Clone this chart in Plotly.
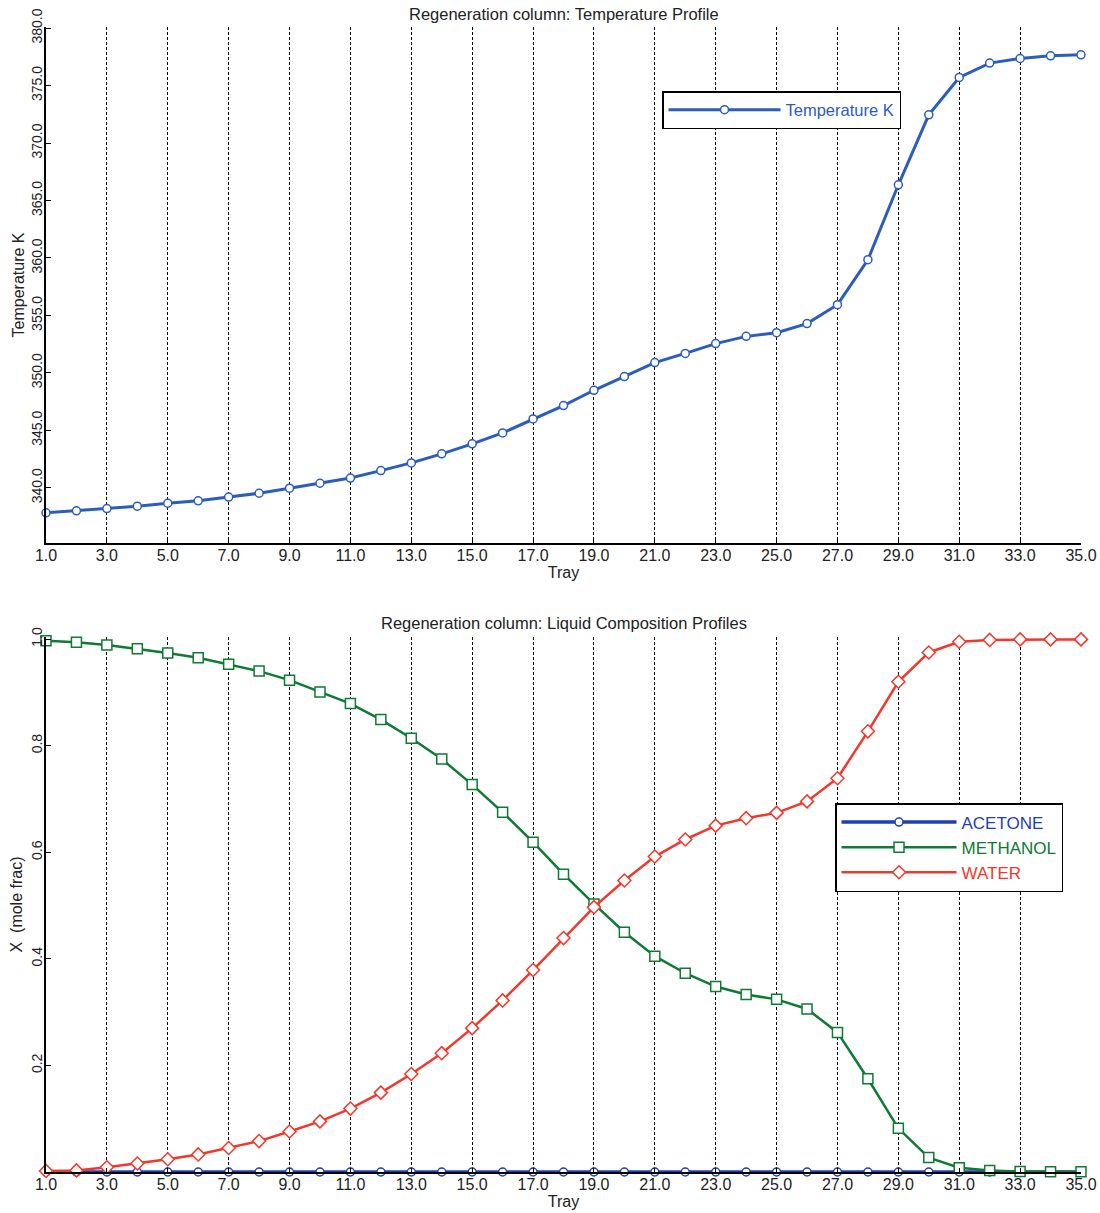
import plotly.graph_objects as go

trays = list(range(1, 36))
tick_vals = list(range(1, 36, 2))
tick_text = [f"{v:.1f}" for v in tick_vals]

temperature_K = [337.83, 338.0, 338.2, 338.4, 338.66, 338.87, 339.2, 339.53, 339.97, 340.4,
                 340.85, 341.5, 342.17, 342.96, 343.83, 344.78, 346.0, 347.16, 348.49, 349.68,
                 350.9, 351.7, 352.55, 353.18, 353.5, 354.29, 355.94, 359.85, 366.37, 372.46,
                 375.71, 376.96, 377.36, 377.59, 377.68]

acetone = [0.0] * 35
methanol = [0.997, 0.994, 0.989, 0.982, 0.974, 0.965, 0.953, 0.940, 0.923, 0.901,
            0.879, 0.849, 0.814, 0.775, 0.727, 0.675, 0.619, 0.559, 0.503, 0.450,
            0.405, 0.373, 0.348, 0.333, 0.324, 0.306, 0.262, 0.175, 0.082, 0.027,
            0.008, 0.003, 0.001, 0.0005, 0.0005]
water = [0.002, 0.003, 0.009, 0.016, 0.024, 0.033, 0.045, 0.058, 0.076, 0.095,
         0.119, 0.149, 0.184, 0.223, 0.270, 0.322, 0.379, 0.439, 0.497, 0.547,
         0.592, 0.624, 0.650, 0.664, 0.674, 0.6955, 0.739, 0.827, 0.920, 0.975,
         0.995, 0.9985, 0.9995, 0.9995, 0.9995]

temp_ticks = [340.0, 345.0, 350.0, 355.0, 360.0, 365.0, 370.0, 375.0, 380.0]
x_ticks = [0.2, 0.4, 0.6, 0.8, 1.0]

BLUE_T = "#2b5cc0"
BLUE_A = "#1e3fb5"
GREEN = "#0e7a34"
RED = "#f2372b"
FONT = "Arial, Liberation Sans, sans-serif"
TXT = "#222222"

W, H = 1100, 1213
ML, MR, MT, MB = 46, 19, 27, 41
PH = H - MT - MB  # plot-area height in px


def py(abs_y):
    """page y (px) -> paper fraction"""
    return (H - MB - abs_y) / PH


fig = go.Figure()

fig.add_trace(go.Scatter(
    x=trays, y=temperature_K, mode="lines+markers",
    name=f"<span style='color:{BLUE_T}'>Temperature K</span>",
    line=dict(color=BLUE_T, width=3),
    marker=dict(symbol="circle", size=8, color="white", line=dict(color=BLUE_T, width=1.5)),
    xaxis="x", yaxis="y", legend="legend", cliponaxis=False,
))

fig.add_trace(go.Scatter(
    x=trays, y=acetone, mode="lines+markers",
    name=f"<span style='color:{BLUE_A}'>ACETONE</span>",
    line=dict(color=BLUE_A, width=3.5),
    marker=dict(symbol="circle", size=8, color="white", line=dict(color=BLUE_A, width=1.5)),
    xaxis="x2", yaxis="y2", legend="legend2", cliponaxis=False,
))
fig.add_trace(go.Scatter(
    x=trays, y=methanol, mode="lines+markers",
    name=f"<span style='color:{GREEN}'>METHANOL</span>",
    line=dict(color=GREEN, width=2.5),
    marker=dict(symbol="square", size=10, color="white", line=dict(color=GREEN, width=1.5)),
    xaxis="x2", yaxis="y2", legend="legend2", cliponaxis=False,
))
fig.add_trace(go.Scatter(
    x=trays, y=water, mode="lines+markers",
    name=f"<span style='color:{RED}'>WATER</span>",
    line=dict(color=RED, width=2.5),
    marker=dict(symbol="diamond", size=10, color="white", line=dict(color=RED, width=1.5)),
    xaxis="x2", yaxis="y2", legend="legend2", cliponaxis=False,
))

xcommon = dict(
    range=[1, 35], tickmode="array", tickvals=tick_vals, ticktext=tick_text,
    showgrid=True, gridcolor="black", gridwidth=1.2, griddash="3px,2px",
    showline=True, linecolor="black", linewidth=1.5, mirror=False,
    ticks="inside", ticklen=4, tickcolor="black", zeroline=False, automargin=False,
    ticklabelstandoff=-3,
    tickfont=dict(family=FONT, size=16, color=TXT),
    title=dict(text="Tray", font=dict(family=FONT, size=16, color=TXT), standoff=4),
)
ycommon = dict(
    showgrid=False, showline=True, linecolor="black", linewidth=1.5, mirror=False,
    ticks="inside", ticklen=5, tickcolor="black", zeroline=False, tickangle=-90,
    automargin=False, ticklabelstandoff=-3,
    tickfont=dict(family=FONT, size=14, color=TXT),
)

top_dom = [py(543), 1.0]
bot_dom = [0.0, py(637)]

fig.update_layout(
    width=W, height=H,
    margin=dict(l=ML, r=MR, t=MT, b=MB, autoexpand=False),
    paper_bgcolor="white", plot_bgcolor="white",
    font=dict(family=FONT, color=TXT),
    xaxis=dict(**xcommon, domain=[0, 1], anchor="y"),
    yaxis=dict(**ycommon, domain=top_dom, anchor="x", range=[335.2, 380.1],
               tickmode="array", tickvals=temp_ticks, ticktext=[f"{v:.1f}" for v in temp_ticks],
               title=dict(text="Temperature K", font=dict(family=FONT, size=16, color=TXT), standoff=0)),
    xaxis2=dict(**xcommon, domain=[0, 1], anchor="y2"),
    yaxis2=dict(**ycommon, domain=bot_dom, anchor="x2", range=[0, 1.004],
                tickmode="array", tickvals=x_ticks, ticktext=[f"{v:.1f}" for v in x_ticks],
                title=dict(text="X\u00a0\u00a0(mole frac)", font=dict(family=FONT, size=16, color=TXT), standoff=2)),
    legend=dict(x=(662 - ML) / (W - ML - MR), y=py(91), xanchor="left", yanchor="top",
                bgcolor="white", bordercolor="black", borderwidth=1.5,
                font=dict(family=FONT, size=16.5), itemwidth=112),
    legend2=dict(x=(835 - ML) / (W - ML - MR), y=py(803), xanchor="left", yanchor="top",
                 bgcolor="white", bordercolor="black", borderwidth=1.5,
                 font=dict(family=FONT, size=17), itemwidth=115),
    showlegend=True,
    annotations=[
        dict(text="Regeneration column: Temperature Profile", xref="paper", yref="paper",
             x=0.5, y=py(14), xanchor="center", yanchor="middle", showarrow=False,
             font=dict(family=FONT, size=16.5, color=TXT)),
        dict(text="Regeneration column: Liquid Composition Profiles", xref="paper", yref="paper",
             x=0.5, y=py(623), xanchor="center", yanchor="middle", showarrow=False,
             font=dict(family=FONT, size=16.5, color=TXT)),
    ],
)

fig.write_html("out.html", config={"displayModeBar": False},
               post_script="document.body.style.margin='0';")
